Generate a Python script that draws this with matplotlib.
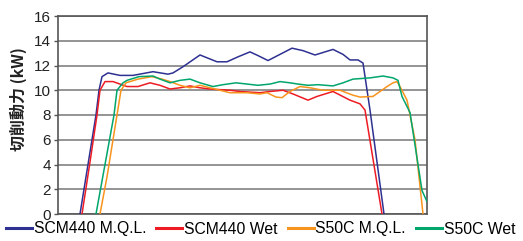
import matplotlib
matplotlib.use("Agg")
import matplotlib.pyplot as plt

# x positions are in arbitrary time units (0..369 across the plot)
blue_x = [22, 30, 38, 41, 44, 50, 62, 75, 95, 110, 115, 125, 142, 159, 169, 180, 192, 200, 210, 222, 234, 245, 257, 275, 285, 292, 300, 305, 312, 326]
blue_y = [0, 4.0, 8.0, 10.0, 11.1, 11.4, 11.2, 11.2, 11.5, 11.3, 11.4, 11.9, 12.85, 12.3, 12.3, 12.7, 13.1, 12.8, 12.4, 12.9, 13.4, 13.2, 12.85, 13.3, 12.9, 12.45, 12.45, 12.2, 8.4, 0]

red_x = [24, 32, 39, 42, 47, 55, 69, 80, 92, 102, 112, 122, 132, 142, 152, 172, 182, 202, 212, 225, 235, 250, 259, 275, 292, 302, 307, 324]
red_y = [0, 4.2, 8.0, 10.0, 10.7, 10.7, 10.3, 10.3, 10.6, 10.4, 10.1, 10.2, 10.35, 10.2, 10.1, 10.0, 9.9, 9.8, 9.9, 10.0, 9.7, 9.2, 9.5, 9.9, 9.2, 8.9, 8.4, 0]

green_x = [38, 47, 56, 59, 65, 69, 81, 95, 102, 112, 122, 132, 142, 155, 165, 178, 189, 200, 212, 222, 232, 240, 250, 260, 275, 285, 295, 312, 325, 335, 340, 344, 352, 364, 369, 375]
green_y = [0, 4.0, 8.0, 10.0, 10.6, 10.8, 11.1, 11.15, 10.9, 10.6, 10.8, 10.9, 10.6, 10.3, 10.45, 10.6, 10.5, 10.4, 10.5, 10.7, 10.6, 10.5, 10.4, 10.45, 10.35, 10.6, 10.9, 11.0, 11.15, 11.0, 10.8, 9.5, 8.2, 1.9, 1.0, 0.6]

orange_x = [42, 49, 55, 59, 63, 68, 80, 94, 104, 112, 122, 132, 142, 152, 162, 172, 189, 202, 209, 218, 224, 232, 242, 252, 265, 282, 295, 302, 315, 322, 329, 335, 339, 342, 349, 357, 365]
orange_y = [0, 3.0, 6.0, 8.0, 10.0, 10.6, 10.9, 11.1, 10.9, 10.7, 10.4, 10.2, 10.4, 10.2, 10.0, 9.8, 9.8, 9.7, 9.8, 9.45, 9.4, 9.9, 10.3, 10.2, 10.0, 10.0, 9.6, 9.45, 9.5, 9.9, 10.3, 10.6, 10.7, 10.3, 9.2, 6.0, 0]

series_labels = ["SCM440 M.Q.L.", "SCM440 Wet", "S50C M.Q.L.", "S50C Wet"]
y_ticks = [0, 2, 4, 6, 8, 10, 12, 14, 16]
y_label = "切削動力 (kW)"

colors = ["#2e3192", "#ed1c24", "#f7941d", "#00a66c"]

fig = plt.figure(figsize=(5.23, 2.41), dpi=100)
ax = fig.add_axes([58 / 523, 1 - 214 / 241, 369 / 523, 198 / 241])

for xs, ys, c, lab in zip([blue_x, red_x, orange_x, green_x],
                          [blue_y, red_y, orange_y, green_y],
                          colors, series_labels):
    ax.plot(xs, ys, color=c, lw=1.1, label=lab, solid_joinstyle="round", zorder=3)

ax.set_xlim(0, 369)
ax.set_ylim(0, 16)
ax.set_yticks(y_ticks)
ax.set_yticklabels([str(t) for t in y_ticks], family=["Liberation Sans", "DejaVu Sans"], fontsize=11)
ax.set_xticks([])
ax.grid(axis="y", color="#777777", lw=1.1, zorder=1)
ax.tick_params(axis="y", length=3, width=1, color="#555555", pad=2, colors="#222222")
for s in ax.spines.values():
    s.set_color("#555555")
    s.set_linewidth(1.2)

fig.text(18 / 523, 1 - 99 / 241, y_label, rotation=90, ha="center", va="center",
         fontsize=11.5, family=["Noto Sans CJK JP", "DejaVu Sans"], fontweight="bold", color="#222222")

handles, labels = ax.get_legend_handles_labels()
leg = fig.legend(handles, labels,
                 loc="center left", bbox_to_anchor=(6 / 523, 1 - 229 / 241), ncol=4, frameon=False,
                 prop={"family": "Liberation Sans", "size": 11.3}, handlelength=1.66,
                 handletextpad=0.1, columnspacing=0.65, borderaxespad=0, borderpad=0)
for l in leg.get_lines():
    l.set_linewidth(2.2)

fig.savefig("out.png", dpi=100)
